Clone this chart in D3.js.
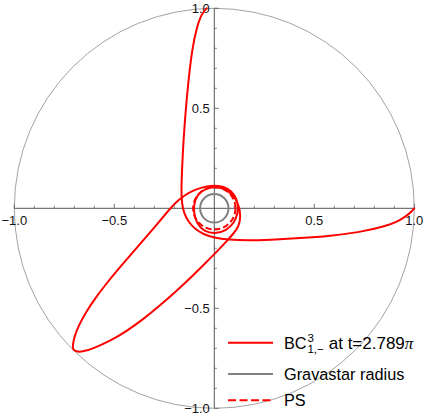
<!DOCTYPE html>
<html>
<head>
<meta charset="utf-8">
<script src="https://cdn.jsdelivr.net/npm/d3@7"></script>
<style>
  html, body { margin: 0; padding: 0; background: #fff; }
  svg { display: block; font-family: "Liberation Sans", Arial, sans-serif; }
</style>
</head>
<body>
<svg id="chart" width="425" height="417"></svg>
<script>
// ---------- data ----------
// branch from the top apex down the left side, along the bottom, out to (1,0)
const branchTop = [
  [-0.038, 1.0], [-0.063, 0.974], [-0.0875, 0.9065], [-0.1115, 0.7915], [-0.129, 0.6415],
  [-0.143, 0.4915], [-0.154, 0.3415], [-0.1615, 0.1915], [-0.165, 0.0915], [-0.1625, 0.0265],
  [-0.1515, -0.026], [-0.129, -0.0685], [-0.0965, -0.1035], [-0.054, -0.13],
  [-0.0015, -0.147], [0.0685, -0.1575], [0.1685, -0.1615], [0.2785, -0.1575],
  [0.4285, -0.1495], [0.5785, -0.1385], [0.7285, -0.1195], [0.8535, -0.091],
  [0.9185, -0.065], [0.961, -0.0385], [0.986, -0.016], [1.0, 0.0]
];
// lower-left lobe with its whirl around the centre
const lobeLowerLeft = [
  [-0.709, -0.6885], [-0.699, -0.6385], [-0.6765, -0.5835], [-0.6415, -0.5185],
  [-0.5965, -0.451], [-0.5415, -0.3785], [-0.4815, -0.306], [-0.4165, -0.231],
  [-0.3515, -0.156], [-0.2915, -0.086], [-0.2415, -0.026], [-0.1965, 0.0265],
  [-0.1515, 0.064], [-0.0965, 0.094], [-0.0365, 0.1115], [0.021, 0.114],
  [0.071, 0.099], [0.1035, 0.0665], [0.12, 0.0215], [0.1175, -0.0285],
  [0.0985, -0.0735], [0.061, -0.111], [0.0035, -0.1285], [-0.0515, -0.116],
  [-0.0865, -0.0785], [-0.105, -0.0185], [-0.099, 0.0415], [-0.069, 0.0865],
  [-0.0165, 0.1075], [0.0435, 0.1035], [0.091, 0.0715], [0.1225, 0.019],
  [0.1325, -0.0385], [0.1235, -0.091], [0.096, -0.126], [0.0585, -0.1685],
  [0.0135, -0.216], [-0.039, -0.2685], [-0.1065, -0.336], [-0.1865, -0.411],
  [-0.2715, -0.486], [-0.3565, -0.556], [-0.441, -0.616], [-0.5215, -0.6635],
  [-0.605, -0.701], [-0.6615, -0.7185], [-0.6915, -0.716], [-0.7065, -0.706]
];
const outerRadius = 1.0;
const gravastarRadius = 0.071;
const photonSphereRadius = 0.106;

const majorTicks = [-1.0, -0.5, 0.5, 1.0];
const majorLabels = ["\u22121.0", "\u22120.5", "0.5", "1.0"];
const minorTicks = [-0.9, -0.8, -0.7, -0.6, -0.4, -0.3, -0.2, -0.1, 0.1, 0.2, 0.3, 0.4, 0.6, 0.7, 0.8, 0.9];

const legendItems = ["curve", "Gravastar radius", "PS"];

// ---------- drawing ----------
const svg = d3.select("#chart");
const x = d3.scaleLinear().domain([-1, 1]).range([14.3, 414.3]);
const y = d3.scaleLinear().domain([-1, 1]).range([408.3, 8.3]);
const rpx = r => x(r) - x(0);

const axisColor = "#555";

// unit circle
svg.append("circle")
  .attr("cx", x(0)).attr("cy", y(0)).attr("r", rpx(outerRadius))
  .attr("fill", "none").attr("stroke", "#8a8a8a").attr("stroke-width", 0.8);

// axes
const ax = svg.append("g");
ax.append("line").attr("x1", x(-1)).attr("x2", x(1)).attr("y1", y(0)).attr("y2", y(0))
  .attr("stroke", axisColor).attr("stroke-width", 1);
ax.append("line").attr("x1", x(0)).attr("x2", x(0)).attr("y1", y(-1)).attr("y2", y(1))
  .attr("stroke", axisColor).attr("stroke-width", 1);

// x ticks (pointing up), y ticks (pointing right)
ax.selectAll(".xmaj").data(majorTicks).enter().append("line")
  .attr("x1", d => x(d)).attr("x2", d => x(d)).attr("y1", y(0)).attr("y2", y(0) - 4.5)
  .attr("stroke", axisColor).attr("stroke-width", 0.8);
ax.selectAll(".xmin").data(minorTicks).enter().append("line")
  .attr("x1", d => x(d)).attr("x2", d => x(d)).attr("y1", y(0)).attr("y2", y(0) - 2.6)
  .attr("stroke", axisColor).attr("stroke-width", 0.7);
ax.selectAll(".ymaj").data(majorTicks).enter().append("line")
  .attr("y1", d => y(d)).attr("y2", d => y(d)).attr("x1", x(0)).attr("x2", x(0) + 4.5)
  .attr("stroke", axisColor).attr("stroke-width", 0.8);
ax.selectAll(".ymin").data(minorTicks).enter().append("line")
  .attr("y1", d => y(d)).attr("y2", d => y(d)).attr("x1", x(0)).attr("x2", x(0) + 2.6)
  .attr("stroke", axisColor).attr("stroke-width", 0.7);

// tick labels
ax.selectAll(".xl").data(majorTicks).enter().append("text")
  .attr("x", d => x(d)).attr("y", y(0) + 16.3)
  .attr("text-anchor", "middle").attr("font-size", 13).attr("fill", "#111")
  .text((d, i) => majorLabels[i]);
ax.selectAll(".yl").data(majorTicks).enter().append("text")
  .attr("x", x(0) - 4.5).attr("y", d => y(d) + 4.8)
  .attr("text-anchor", "end").attr("font-size", 13).attr("fill", "#111")
  .text((d, i) => majorLabels[i]);

// orbit curves (B-spline through the read points for a smooth trace)
const line = d3.line().x(d => x(d[0])).y(d => y(d[1])).curve(d3.curveBasis);
const lineClosed = d3.line().x(d => x(d[0])).y(d => y(d[1])).curve(d3.curveBasisClosed);
svg.append("path").attr("d", lineClosed(lobeLowerLeft))
  .attr("fill", "none").attr("stroke", "#ff0000").attr("stroke-width", 2)
  .attr("stroke-linejoin", "round");
svg.append("path").attr("d", line(branchTop))
  .attr("fill", "none").attr("stroke", "#ff0000").attr("stroke-width", 2)
  .attr("stroke-linejoin", "round").attr("stroke-linecap", "round");

// gravastar radius
svg.append("circle")
  .attr("cx", x(0)).attr("cy", y(0)).attr("r", rpx(gravastarRadius))
  .attr("fill", "none").attr("stroke", "#808080").attr("stroke-width", 2);
// photon sphere
svg.append("circle")
  .attr("cx", x(0)).attr("cy", y(0)).attr("r", rpx(photonSphereRadius))
  .attr("fill", "none").attr("stroke", "#ff0000").attr("stroke-width", 2)
  .attr("stroke-dasharray", "6,3");

// legend
const lg = svg.append("g").attr("font-size", 16.3).attr("fill", "#000");
const lx1 = 228, lx2 = 273, tx = 284;
const rows = [342.7, 374, 400.3];
lg.append("line").attr("x1", lx1).attr("x2", lx2).attr("y1", rows[0]).attr("y2", rows[0])
  .attr("stroke", "#ff0000").attr("stroke-width", 2);
lg.append("line").attr("x1", lx1).attr("x2", lx2).attr("y1", rows[1]).attr("y2", rows[1])
  .attr("stroke", "#808080").attr("stroke-width", 2);
lg.append("line").attr("x1", lx1).attr("x2", lx2).attr("y1", rows[2]).attr("y2", rows[2])
  .attr("stroke", "#ff0000").attr("stroke-width", 2).attr("stroke-dasharray", "8,3.5");

const b1 = rows[0] + 6.3;
const tBC = lg.append("text").attr("x", tx).attr("y", b1).text("BC");
const wBC = tBC.node().getComputedTextLength();
const supX = tx + wBC + 0.8;
lg.append("text").attr("x", supX).attr("y", b1 - 7.5).attr("font-size", 11.5).text("3");
const tSub = lg.append("text").attr("x", supX).attr("y", b1 + 4).attr("font-size", 11.5).text("1,\u2212");
const wSub = tSub.node().getComputedTextLength();
const tRest = lg.append("text").attr("x", supX + wSub + 5).attr("y", b1).attr("font-size", 17);
tRest.append("tspan").text("at t=2.789");
tRest.append("tspan").attr("font-style", "italic").attr("font-family", "'Liberation Serif', serif").text("\u03C0");

lg.append("text").attr("x", tx).attr("y", rows[1] + 5.7).text(legendItems[1]);
lg.append("text").attr("x", tx).attr("y", rows[2] + 5.7).text(legendItems[2]);
</script>
</body>
</html>
